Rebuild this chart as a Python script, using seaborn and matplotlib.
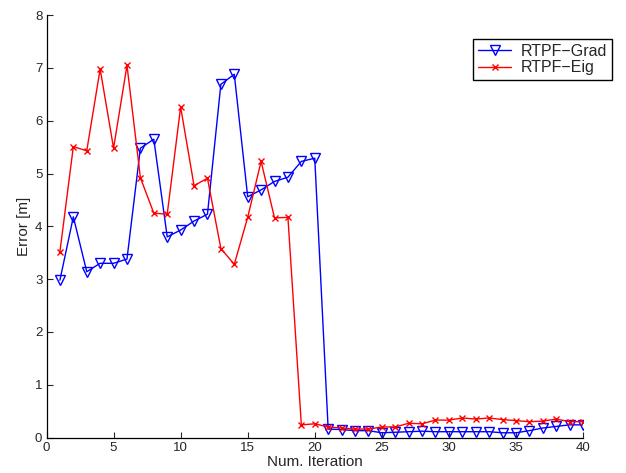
import matplotlib
matplotlib.use("Agg")
import matplotlib.pyplot as plt
import seaborn as sns
import numpy as np
import pandas as pd

iterations = list(range(1, 41))
grad = [2.98, 4.18, 3.14, 3.30, 3.30, 3.38, 5.48, 5.65, 3.80, 3.93,
        4.10, 4.23, 6.69, 6.88, 4.56, 4.69, 4.85, 4.93, 5.23, 5.29,
        0.16, 0.15, 0.13, 0.13, 0.09, 0.10, 0.11, 0.12, 0.11, 0.11,
        0.11, 0.11, 0.11, 0.09, 0.09, 0.13, 0.18, 0.21, 0.24, 0.24]
eig = [3.52, 5.51, 5.43, 6.98, 5.48, 7.05, 4.92, 4.25, 4.23, 6.26,
       4.77, 4.91, 3.58, 3.28, 4.17, 5.23, 4.16, 4.17, 0.24, 0.26,
       0.20, 0.18, 0.16, 0.16, 0.20, 0.20, 0.27, 0.26, 0.33, 0.33,
       0.37, 0.35, 0.37, 0.34, 0.32, 0.30, 0.31, 0.35, 0.30, 0.30]
x_ticks = [0, 5, 10, 15, 20, 25, 30, 35, 40]
y_ticks = [0, 1, 2, 3, 4, 5, 6, 7, 8]

sns.set_style("white")
plt.rcParams['font.family'] = ['Liberation Sans', 'DejaVu Sans']

fig = plt.figure(figsize=(6.26, 4.73), dpi=100)
ax = fig.add_axes([0.0743, 0.075, 0.857, 0.893])

df = pd.DataFrame({"it": iterations, "grad": grad, "eig": eig})
sns.lineplot(data=df, x="it", y="grad", ax=ax, color="blue", lw=1.0,
             marker="v", markersize=7, markerfacecolor="none",
             markeredgecolor="blue", markeredgewidth=1.0, label="RTPF\u2212Grad")
sns.lineplot(data=df, x="it", y="eig", ax=ax, color="red", lw=1.0,
             marker="x", markersize=4, markeredgecolor="red",
             markeredgewidth=1.0, label="RTPF\u2212Eig")

ax.set_xlim(0, 40)
ax.set_ylim(0, 8)
ax.set_xticks(x_ticks)
ax.set_yticks(y_ticks)
ax.tick_params(direction="in", length=4, width=0.8, labelsize=9.5, pad=3,
               left=True, bottom=True)
for s in ["top", "right"]:
    ax.spines[s].set_visible(False)
for s in ["left", "bottom"]:
    ax.spines[s].set_color("black")
    ax.spines[s].set_linewidth(0.9)
ax.set_xlabel("Num. Iteration", fontsize=11, labelpad=1)
ax.set_ylabel("Error [m]", fontsize=11, labelpad=3)

leg = ax.legend(loc="upper right", bbox_to_anchor=(0.978, 0.918),
                bbox_transform=fig.transFigure, fontsize=11.5, frameon=True,
                fancybox=False, edgecolor="black", framealpha=1,
                borderpad=0.3, labelspacing=0.1, handlelength=2.1,
                handletextpad=0.6, borderaxespad=0)
leg.get_frame().set_linewidth(1.0)

fig.savefig("out.png", dpi=100)
